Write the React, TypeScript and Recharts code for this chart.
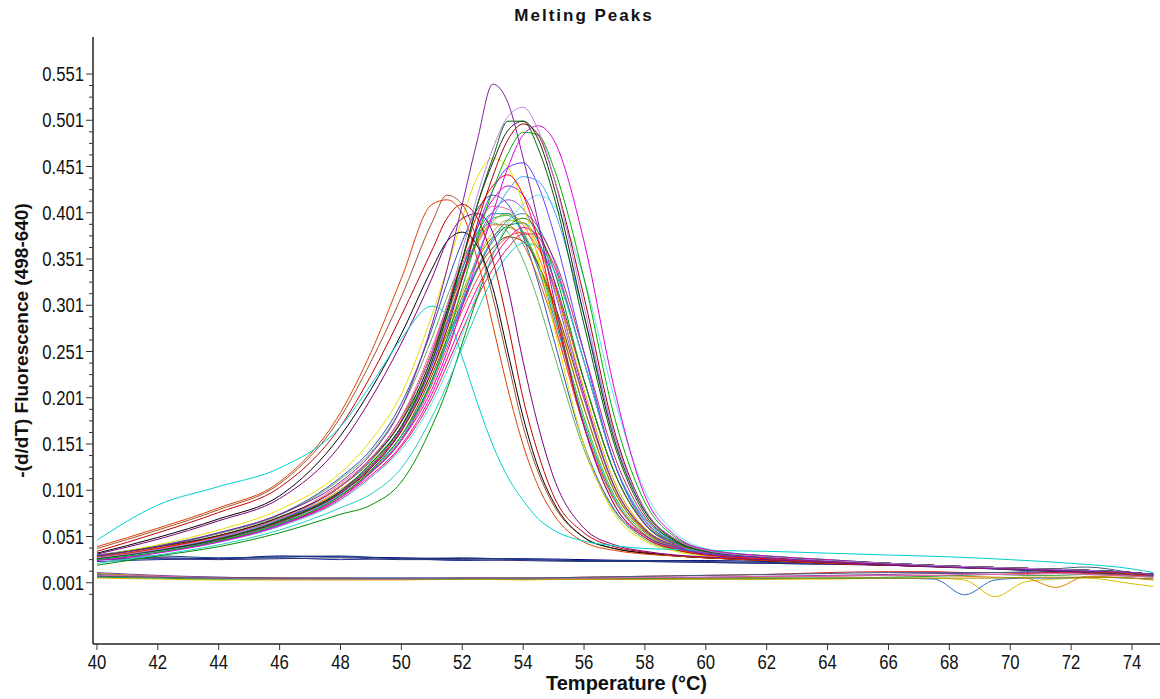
import React from 'react';
import { LineChart, Line, XAxis, YAxis } from 'recharts';

// Temperature grids (°C)
const TP = [40, 42, 44, 46, 48, 49, 50, 51, 51.5, 52, 52.5, 53, 53.5, 54, 54.5, 55, 56, 57, 58, 59, 60, 62, 64, 66, 68, 70, 72, 74, 74.7];
const TB = [40, 42, 44, 46, 48, 50, 52, 54, 56, 58, 60, 62, 64, 66, 67.5, 68.5, 69.5, 70.5, 71.5, 72.5, 74, 74.7];

// Axis ticks
const X_TICKS = [40, 42, 44, 46, 48, 50, 52, 54, 56, 58, 60, 62, 64, 66, 68, 70, 72, 74];
const Y_LABELS = ['0.001', '0.051', '0.101', '0.151', '0.201', '0.251', '0.301', '0.351', '0.401', '0.451', '0.501', '0.551'];
const X_DOMAIN: [number, number] = [39.87, 74.92];
const Y_DOMAIN: [number, number] = [-0.0652, 0.591];

// Early-melting peaks
const A1 = [.038, .058, .08, .108, .18, .24, .31, .39, .42, .41, .37, .31, .24, .17, .12, .085, .05, .038, .033, .03, .028, .025, .022, .02, .018, .016, .014, .011, .01];
const A2 = [.035, .055, .077, .104, .17, .225, .29, .36, .395, .41, .395, .35, .28, .2, .14, .095, .055, .04, .034, .03, .028, .025, .022, .02, .018, .016, .014, .012, .01];
const A3 = [.033, .05, .07, .095, .16, .21, .27, .34, .37, .38, .365, .32, .25, .18, .125, .088, .05, .038, .033, .03, .028, .025, .022, .02, .018, .016, .014, .011, .01];
const A4 = [.04, .06, .082, .11, .185, .25, .33, .41, .415, .40, .35, .28, .21, .15, .105, .075, .045, .036, .032, .03, .028, .025, .022, .02, .018, .016, .014, .011, .01];
const A5 = [.032, .048, .068, .092, .15, .2, .26, .33, .37, .395, .40, .38, .32, .24, .17, .115, .06, .042, .035, .031, .029, .026, .023, .02, .018, .016, .014, .012, .01];
const CY = [.047, .085, .105, .125, .17, .215, .265, .30, .29, .245, .195, .15, .115, .09, .07, .058, .046, .041, .038, .037, .036, .035, .033, .031, .029, .026, .022, .016, .012];

// Tall peaks
const C1 = [.03, .04, .055, .075, .11, .14, .19, .28, .34, .41, .48, .54, .52, .46, .39, .31, .17, .085, .052, .039, .032, .028, .024, .021, .018, .016, .014, .012, .01];
const C2 = [.028, .037, .05, .07, .105, .135, .18, .25, .30, .36, .42, .47, .505, .515, .49, .44, .30, .16, .08, .048, .036, .029, .025, .022, .019, .017, .015, .012, .01];
const C3 = [.027, .036, .048, .068, .10, .13, .17, .24, .29, .35, .41, .46, .50, .50, .47, .42, .28, .15, .075, .046, .035, .029, .025, .022, .019, .017, .015, .012, .01];
const C4 = [.03, .04, .052, .072, .105, .135, .175, .245, .295, .35, .41, .455, .49, .50, .48, .43, .29, .155, .078, .047, .035, .029, .025, .022, .019, .017, .015, .012, .01];
const C5 = [.025, .033, .045, .063, .093, .12, .155, .21, .25, .30, .35, .40, .45, .485, .495, .48, .37, .21, .095, .052, .037, .03, .026, .022, .019, .017, .015, .012, .01];
const C6 = [.028, .036, .048, .067, .098, .125, .165, .23, .275, .33, .39, .44, .48, .497, .485, .44, .31, .165, .08, .048, .036, .029, .025, .022, .019, .017, .015, .012, .01];
const C7 = [.026, .034, .046, .065, .095, .122, .16, .22, .265, .32, .375, .425, .465, .488, .485, .45, .33, .18, .088, .05, .037, .03, .026, .022, .019, .017, .015, .012, .01];

// Mid-height peaks
const H1 = [.03, .042, .058, .08, .12, .155, .205, .29, .34, .395, .44, .46, .45, .41, .35, .28, .15, .075, .046, .035, .03, .027, .024, .021, .019, .017, .015, .012, .01];
const H2 = [.027, .036, .05, .07, .10, .13, .17, .235, .28, .33, .385, .425, .45, .455, .43, .38, .25, .13, .065, .042, .033, .028, .025, .022, .019, .017, .015, .012, .01];
const H3 = [.026, .035, .048, .067, .097, .125, .16, .22, .26, .305, .355, .395, .425, .44, .435, .405, .29, .16, .08, .048, .036, .029, .025, .022, .019, .017, .015, .012, .01];
const H4 = [.028, .038, .052, .072, .105, .135, .18, .25, .30, .35, .40, .43, .442, .42, .37, .30, .17, .085, .05, .037, .031, .027, .024, .021, .019, .017, .015, .012, .01];
const H5 = [.026, .034, .045, .062, .09, .115, .145, .195, .23, .27, .315, .355, .39, .41, .42, .41, .33, .20, .10, .055, .038, .03, .026, .022, .019, .017, .015, .012, .01];

// Main cluster
const M1 = [.03, .038, .05, .068, .102, .128, .17, .24, .285, .33, .37, .392, .40, .388, .355, .305, .19, .10, .056, .04, .032, .027, .024, .021, .019, .017, .015, .012, .01];
const M2 = [.029, .038, .051, .07, .108, .136, .18, .255, .30, .345, .385, .408, .405, .38, .34, .285, .17, .09, .052, .038, .031, .027, .024, .021, .019, .017, .015, .012, .01];
const M3 = [.027, .035, .046, .063, .095, .12, .155, .22, .26, .30, .34, .37, .387, .39, .37, .33, .22, .12, .064, .043, .034, .028, .025, .022, .019, .017, .015, .012, .01];
const M4 = [.03, .039, .051, .069, .10, .125, .165, .23, .27, .31, .35, .375, .385, .375, .345, .30, .19, .10, .057, .04, .032, .027, .024, .021, .019, .017, .015, .012, .01];
const M5 = [.031, .041, .055, .075, .115, .145, .195, .275, .325, .37, .405, .42, .41, .375, .325, .265, .15, .08, .05, .037, .031, .027, .024, .021, .019, .017, .015, .012, .01];
const M6 = [.027, .036, .049, .067, .10, .127, .168, .24, .29, .34, .385, .415, .43, .42, .385, .33, .205, .105, .058, .04, .032, .027, .024, .021, .019, .017, .015, .012, .01];
const M7 = [.028, .036, .047, .064, .095, .12, .155, .215, .255, .295, .33, .358, .375, .38, .362, .325, .22, .12, .064, .043, .034, .028, .025, .022, .019, .017, .015, .012, .01];
const M8 = [.029, .037, .049, .067, .10, .128, .17, .245, .29, .335, .372, .395, .398, .38, .345, .295, .18, .095, .055, .039, .032, .027, .024, .021, .019, .017, .015, .012, .01];
const M9 = [.03, .039, .052, .071, .105, .132, .17, .235, .275, .315, .352, .38, .393, .39, .365, .322, .21, .11, .06, .041, .033, .028, .025, .022, .019, .017, .015, .012, .01];
const M10 = [.028, .037, .05, .069, .105, .133, .176, .25, .295, .34, .38, .40, .40, .378, .34, .29, .175, .092, .053, .038, .031, .027, .024, .021, .019, .017, .015, .012, .01];
const M11 = [.027, .035, .046, .063, .093, .117, .15, .205, .243, .283, .32, .35, .373, .385, .375, .345, .24, .13, .068, .045, .035, .029, .025, .022, .019, .017, .015, .012, .01];
const M12 = [.029, .037, .049, .066, .098, .123, .16, .225, .265, .305, .34, .363, .375, .37, .345, .305, .20, .105, .059, .041, .033, .028, .025, .022, .019, .017, .015, .012, .01];
const M13 = [.027, .035, .047, .064, .096, .121, .157, .218, .26, .302, .342, .373, .393, .40, .385, .35, .24, .13, .068, .045, .035, .029, .025, .022, .019, .017, .015, .012, .01];
const M14 = [.029, .038, .051, .07, .106, .134, .177, .25, .292, .333, .368, .388, .388, .367, .33, .282, .17, .09, .053, .038, .031, .027, .024, .021, .019, .017, .015, .012, .01];
const M15 = [.026, .034, .045, .062, .091, .115, .148, .20, .236, .274, .31, .34, .363, .378, .378, .352, .25, .138, .072, .046, .035, .029, .025, .022, .019, .017, .015, .012, .01];
const M16 = [.03, .04, .054, .074, .113, .142, .19, .265, .31, .35, .378, .39, .38, .35, .305, .25, .145, .078, .048, .036, .031, .027, .024, .021, .019, .017, .015, .012, .01];
const M17 = [.028, .036, .048, .066, .099, .126, .166, .236, .283, .33, .373, .402, .415, .405, .372, .32, .20, .104, .058, .04, .032, .027, .024, .021, .019, .017, .015, .012, .01];
const M18 = [.02, .03, .04, .055, .075, .085, .11, .17, .21, .26, .31, .355, .385, .395, .38, .34, .22, .12, .065, .044, .035, .029, .025, .022, .019, .017, .015, .012, .01];
const M19 = [.022, .031, .042, .058, .082, .097, .125, .18, .215, .255, .295, .33, .355, .368, .365, .34, .24, .13, .07, .046, .036, .029, .025, .022, .019, .017, .015, .012, .01];

// Baseline (no product) traces
const N1 = [.027, .028, .027, .03, .029, .028, .027, .027, .026, .025, .025, .024, .022, .021, .019, .018, .017, .015, .014, .013, .011, .01];
const N2 = [.024, .026, .027, .028, .026, .027, .025, .026, .025, .024, .023, .022, .021, .02, .019, .018, .016, .015, .014, .012, .01, .009];
const N3 = [.029, .03, .028, .029, .03, .027, .028, .026, .025, .025, .024, .023, .022, .02, .019, .017, .016, .015, .013, .012, .011, .01];
const N4 = [.026, .027, .026, .027, .028, .026, .026, .025, .024, .024, .023, .022, .021, .02, .018, .017, .016, .014, .013, .012, .01, .009];
const F1 = [.006, .005, .004, .004, .004, .004, .005, .004, .005, .005, .005, .005, .005, .006, .006, .004, -.014, .002, .005, .006, .0, -.003];
const F2 = [.01, .008, .007, .006, .006, .006, .006, .006, .006, .006, .006, .006, .006, .006, .005, -.012, .004, .006, .006, .007, .006, .005];
const F3 = [.009, .007, .006, .006, .006, .005, .006, .006, .005, .005, .006, .007, .008, .009, .009, .008, .007, .006, -.004, .008, .006, .004];
const F4 = [.012, .009, .007, .006, .006, .006, .006, .005, .006, .006, .007, .008, .009, .01, .011, .011, .012, .012, .012, .013, .01, .008];
const F5 = [.008, .007, .006, .006, .005, .005, .006, .006, .007, .008, .009, .01, .012, .013, .013, .012, .012, .011, .012, .011, .009, .008];
const F6 = [.007, .006, .005, .005, .005, .005, .005, .006, .006, .006, .006, .006, .006, .007, .008, .009, .01, .009, .009, .01, .008, .007];
const F7 = [.011, .008, .006, .005, .005, .005, .005, .005, .005, .005, .005, .005, .006, .006, .006, .006, .006, .007, .007, .007, .006, .005];
const F8 = [.009, .008, .006, .005, .005, .005, .006, .006, .006, .007, .007, .008, .008, .009, .009, .01, .01, .01, .011, .01, .008, .007];
const F9 = [.008, .007, .006, .006, .006, .006, .006, .006, .007, .008, .009, .01, .011, .012, .012, .012, .012, .013, .016, .018, .012, .009];

const BASE_SERIES: [string, string, number[]][] = [
  ['N1', '#000080', N1], ['N2', '#2030a0', N2], ['N3', '#104080', N3], ['N4', '#303070', N4],
  ['F1', '#d8c000', F1], ['F2', '#3070c0', F2], ['F3', '#e08000', F3], ['F4', '#8040a0', F4],
  ['F5', '#e02020', F5], ['F6', '#30a030', F6], ['F7', '#a09000', F7], ['F8', '#e060c0', F8], ['F9', '#406080', F9],
];

const PEAK_SERIES: [string, string, number[]][] = [
  ['M1', '#ff8000', M1], ['M2', '#ff60a0', M2], ['M3', '#008080', M3], ['M4', '#808000', M4],
  ['M5', '#3050b0', M5], ['M6', '#c000c0', M6], ['M7', '#ff4040', M7], ['M8', '#30c030', M8],
  ['M9', '#c8b400', M9], ['M10', '#00a0a0', M10], ['M11', '#ff0090', M11], ['M12', '#804000', M12],
  ['M13', '#4080c0', M13], ['M14', '#e06020', M14], ['M15', '#d02060', M15], ['M16', '#60b060', M16],
  ['M17', '#9050d0', M17], ['M18', '#008f00', M18], ['M19', '#20d0c0', M19],
  ['H1', '#e8e000', H1], ['H2', '#6040ff', H2], ['H3', '#40a0ff', H3], ['H4', '#ff0000', H4], ['H5', '#60e0f0', H5],
  ['A1', '#a0522d', A1], ['A2', '#c00000', A2], ['A3', '#000000', A3], ['A4', '#e04000', A4], ['A5', '#800080', A5],
  ['CY', '#00d0d0', CY],
  ['C7', '#00b000', C7], ['C6', '#a00000', C6], ['C5', '#e000e0', C5], ['C4', '#202020', C4],
  ['C3', '#006000', C3], ['C2', '#c080e0', C2], ['C1', '#8020a0', C1],
];

const Y_MAJOR = Y_LABELS.map((s) => parseFloat(s));
const Y_TICKS: number[] = [];
for (let k = -1; k <= 44; k++) Y_TICKS.push(Math.round((0.001 + 0.0125 * k) * 100000) / 100000);

const TICK_FONT = '"Liberation Sans", Arial, sans-serif';
const BOLD_FONT = '"Liberation Sans", Arial, sans-serif';

// narrow, tall tick lettering: width fitted per string
const labelWidth = (s: string) => {
  let w = 0;
  for (const ch of s) w += ch === '.' ? 4.5 : 9.3;
  return w;
};

const YTick = (props: any) => {
  const { x, y, payload } = props;
  const idx = Y_MAJOR.findIndex((m) => Math.abs(m - payload.value) < 1e-6);
  const major = idx >= 0;
  return (
    <g>
      <line x1={x - (major ? 7 : 4)} x2={x} y1={y} y2={y} stroke="#333" strokeWidth={1} />
      {major && (
        <text x={x - 9} y={y} dy="0.36em" textAnchor="end" fontFamily={TICK_FONT} fontSize={20} fill="#111"
          textLength={labelWidth(Y_LABELS[idx])} lengthAdjust="spacingAndGlyphs">
          {Y_LABELS[idx]}
        </text>
      )}
    </g>
  );
};

const XTick = (props: any) => {
  const { x, y, payload } = props;
  const s = String(payload.value);
  return (
    <g>
      <line x1={x} x2={x} y1={y} y2={y + 6} stroke="#333" strokeWidth={1} />
      <text x={x} y={y + 25} textAnchor="middle" fontFamily={TICK_FONT} fontSize={20} fill="#111"
        textLength={labelWidth(s)} lengthAdjust="spacingAndGlyphs">
        {s}
      </text>
    </g>
  );
};

const YTitle = (props: any) => {
  const vb = props.viewBox || {};
  const cx = 21;
  const cy = (vb.y ?? 37) + (vb.height ?? 607) / 2;
  return (
    <text x={cx} y={cy} transform={`rotate(-90 ${cx} ${cy})`} textAnchor="middle" dominantBaseline="central"
      fontFamily={BOLD_FONT} fontWeight="bold" fontSize={19} fill="#111">
      -(d/dT) Fluorescence (498-640)
    </text>
  );
};

const XTitle = (props: any) => {
  const vb = props.viewBox || {};
  const cx = (vb.x ?? 93) + (vb.width ?? 1067) / 2;
  return (
    <text x={cx} y={690} textAnchor="middle" fontFamily={BOLD_FONT} fontWeight="bold" fontSize={20} fill="#111">
      Temperature (°C)
    </text>
  );
};

export default function App() {
  return (
    <div style={{ position: 'absolute', left: 0, top: 0, width: 1160, height: 699, background: '#fff', overflow: 'hidden' }}>
      <div style={{ position: 'absolute', left: 0, top: 7, width: 1168, textAlign: 'center', fontFamily: BOLD_FONT, fontWeight: 'bold', fontSize: 17, lineHeight: '17px', letterSpacing: 2, color: '#111' }}>
        Melting Peaks
      </div>
      <LineChart width={1160} height={699} margin={{ top: 37, right: 0, bottom: 0, left: 0 }}>
        <XAxis dataKey="t" type="number" domain={X_DOMAIN} allowDataOverflow ticks={X_TICKS} interval={0}
          height={55} tickSize={0} tickMargin={0} tickLine={false} tick={<XTick />}
          axisLine={{ stroke: '#222', strokeWidth: 1.5 }} label={<XTitle />} />
        <XAxis xAxisId="top" orientation="top" dataKey="t" type="number" domain={X_DOMAIN} allowDataOverflow
          height={0} tick={false} tickLine={false} axisLine={{ stroke: '#222', strokeWidth: 1.5 }} />
        <YAxis type="number" domain={Y_DOMAIN} allowDataOverflow ticks={Y_TICKS} interval={0} width={93}
          tickSize={0} tickMargin={0} tickLine={false} tick={<YTick />}
          axisLine={{ stroke: '#222', strokeWidth: 1.5 }} label={<YTitle />} />
        {BASE_SERIES.map(([name, color, vals]) => (
          <Line key={name} name={name} data={TB.map((t, i) => ({ t, v: vals[i] }))} dataKey="v" type="monotone"
            stroke={color} strokeWidth={1} dot={false} isAnimationActive={false} />
        ))}
        {PEAK_SERIES.map(([name, color, vals]) => (
          <Line key={name} name={name} data={TP.map((t, i) => ({ t, v: vals[i] }))} dataKey="v" type="monotone"
            stroke={color} strokeWidth={1} dot={false} isAnimationActive={false} />
        ))}
      </LineChart>
    </div>
  );
}
